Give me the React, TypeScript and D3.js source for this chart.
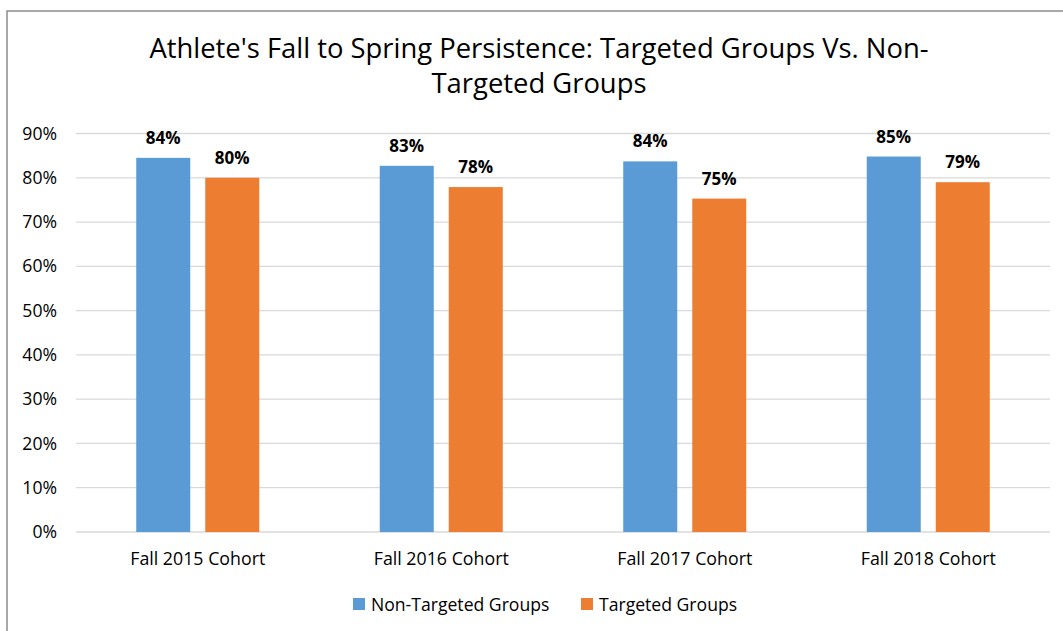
import * as d3 from 'd3';
import React from 'react';

const categories = ['Fall 2015 Cohort', 'Fall 2016 Cohort', 'Fall 2017 Cohort', 'Fall 2018 Cohort'];
const seriesNames = ['Non-Targeted Groups', 'Targeted Groups'];
const nonTargeted = [0.845, 0.827, 0.837, 0.848];
const targeted = [0.80, 0.779, 0.753, 0.79];
const valueLabels = [
  ['84%', '83%', '84%', '85%'],
  ['80%', '78%', '75%', '79%'],
];
const yTicks = [0, 0.1, 0.2, 0.3, 0.4, 0.5, 0.6, 0.7, 0.8, 0.9];
const titleLines = ["Athlete's Fall to Spring Persistence: Targeted Groups Vs. Non-", 'Targeted Groups'];

const colors = ['#5B9BD5', '#ED7D31'];
const font = "'Open Sans', sans-serif";

export default function App() {
  const width = 1063;
  const height = 631;
  const marginLeft = 76;
  const marginRight = 13;
  const plotTop = 133.5;
  const plotBottom = 532;

  const series = [nonTargeted, targeted];

  // outer scale: one band per cohort
  const x0 = d3.scaleBand()
    .domain(categories)
    .range([marginLeft, width - marginRight])
    .padding(0);

  // inner scale: the two bars within a cohort
  const x1 = d3.scaleBand()
    .domain(seriesNames)
    .range([0, x0.bandwidth()])
    .paddingInner(0.2174)
    .paddingOuter(0.873);

  const y = d3.scaleLinear()
    .domain([0, 0.9])
    .range([plotBottom, plotTop]);

  const pct = d3.format('.0%');

  return (
    <svg width={width} height={height} style={{ position: 'absolute', left: 0, top: 0, background: '#fff' }}
      fontFamily={font}>
      <rect x={0} y={0} width={width} height={height} fill="#fff" />
      {/* chart frame (only left and top edges are in view) */}
      <rect x={7} y={11} width={1200} height={800} fill="none" stroke="#8c8c8c" strokeWidth={1.5} />

      {/* title */}
      <text x={539} textAnchor="middle" fontSize={27.4} fill="#000">
        {titleLines.map((t, i) => (
          <tspan key={i} x={539} y={58 + i * 35}>{t}</tspan>
        ))}
      </text>

      {/* gridlines + y tick labels */}
      <g>
        {yTicks.map(t => (
          <g key={t}>
            <line x1={marginLeft} x2={width - marginRight} y1={y(t)} y2={y(t)}
              stroke="#d9d9d9" strokeWidth={1.3} />
            <text x={57} y={y(t)} dy="0.35em" textAnchor="end" fontSize={17.6} fill="#000">{pct(t)}</text>
          </g>
        ))}
      </g>

      {/* bars */}
      {categories.map((c, ci) => (
        <g key={c} transform={`translate(${x0(c)},0)`}>
          {seriesNames.map((s, si) => {
            const v = series[si][ci];
            const bx = x1(s) as number;
            return (
              <g key={s}>
                <rect x={bx} y={y(v)} width={x1.bandwidth()} height={y(0) - y(v)} fill={colors[si]} />
                <text x={bx + x1.bandwidth() / 2} y={y(v) - 14} textAnchor="middle"
                  fontSize={17} fontWeight="bold" fill="#000">{valueLabels[si][ci]}</text>
              </g>
            );
          })}
          <text x={x0.bandwidth() / 2} y={565} textAnchor="middle" fontSize={17.8} fill="#000">{c}</text>
        </g>
      ))}

      {/* legend */}
      <g>
        {seriesNames.map((s, si) => {
          const lx = [353, 581][si];
          return (
            <g key={s} transform={`translate(${lx},598)`}>
              <rect x={0} y={0} width={12} height={12} fill={colors[si]} />
              <text x={18} y={13} fontSize={17.6} fill="#000">{s}</text>
            </g>
          );
        })}
      </g>
    </svg>
  );
}
